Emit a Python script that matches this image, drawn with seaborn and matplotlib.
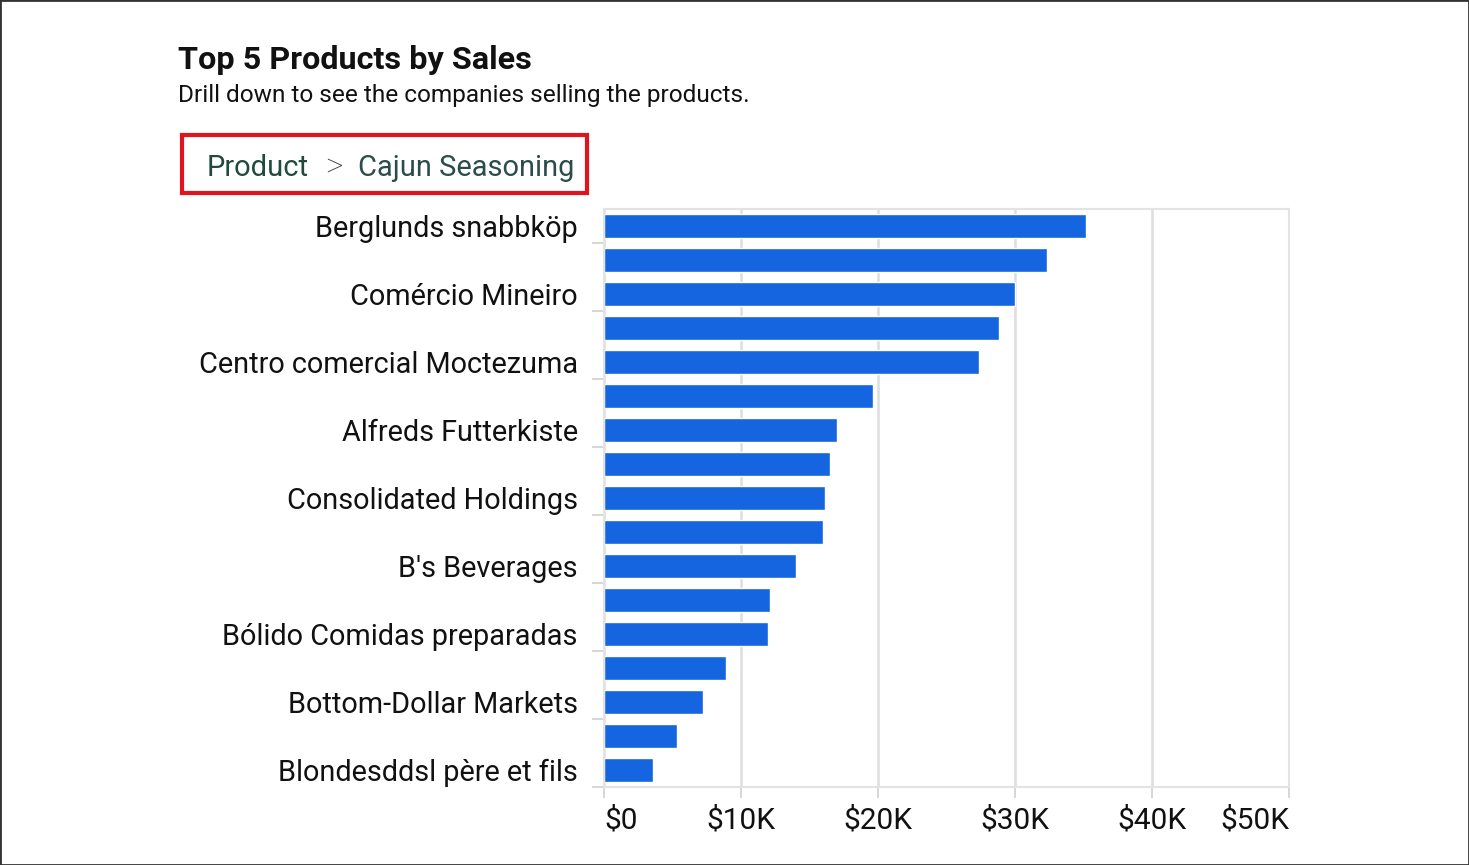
import numpy as np
import matplotlib.pyplot as plt
import seaborn as sns
import pandas as pd
from matplotlib.patches import Rectangle
from matplotlib.ticker import FuncFormatter

# companies selling Cajun Seasoning, sorted by sales
companies = ["Berglunds snabbköp", "Around the Horn", "Comércio Mineiro", "Blauer See Delikatessen",
             "Centro comercial Moctezuma", "Bon app'", "Alfreds Futterkiste", "Cactus Comidas para llevar",
             "Consolidated Holdings", "Chop-suey Chinese", "B's Beverages", "Du monde entier",
             "Bólido Comidas preparadas", "Eastern Connection", "Bottom-Dollar Markets", "Ernst Handel",
             "Blondesddsl père et fils"]
sales = [35200, 32300, 30000, 28800, 27400, 19600, 17000, 16500, 16100,
         16000, 14000, 12100, 12000, 8900, 7200, 5300, 3600]
x_ticks = [0, 10000, 20000, 30000, 40000, 50000]

df = pd.DataFrame({"company": companies, "sales": sales})

sns.set_style("white")
plt.rcParams['font.family'] = ['Roboto', 'DejaVu Sans']

fig = plt.figure(figsize=(14.69, 8.65), dpi=100)
ax = fig.add_axes([0.4112, 0.0902, 0.4663, 0.6682])

sns.barplot(data=df, x="sales", y="company", color="#1565E0", width=0.7,
            saturation=1, ax=ax, orient="h")

ax.set_xlim(0, 50000)
ax.set_ylim(len(companies) - 0.5, -0.5)
ax.set_xlabel("")
ax.set_ylabel("")

# every other label shown, small ticks between groups
ax.set_yticks(range(0, len(companies), 2))
ax.set_yticklabels(companies[::2], fontsize=20.8, color="#111111")
ax.set_yticks(np.arange(0.5, len(companies), 2), minor=True)
ax.tick_params(axis="y", which="major", length=0, pad=19)
ax.tick_params(axis="y", which="minor", length=9, width=1.2, color="#d0d0d0", left=True)

ax.set_xticks(x_ticks)
ax.xaxis.set_major_formatter(FuncFormatter(lambda v, p: "$0" if v == 0 else f"${int(v/1000)}K"))
ax.tick_params(axis="x", length=8, width=1.2, color="#d0d0d0", labelsize=21.5,
               labelcolor="#111111", pad=6, bottom=True)
labels = ax.get_xticklabels()
labels[0].set_horizontalalignment("left")
labels[-1].set_horizontalalignment("right")

ax.grid(axis="x", color="#dddddd", linewidth=1.8)
ax.set_axisbelow(True)
for s in ax.spines.values():
    s.set_visible(True)
    s.set_color("#e3e3e3")
    s.set_linewidth(1.5)

fig.text(0.1212, 0.9202, "Top 5 Products by Sales", fontsize=23.3, fontweight="bold",
         color="#111111", va="baseline")
fig.text(0.1212, 0.882, "Drill down to see the companies selling the products.", fontsize=17.6,
         color="#111111", va="baseline")
fig.text(0.1409, 0.7965, "Product", fontsize=20.9, color="#1f4a3c", va="baseline")
fig.text(0.2216, 0.7955, ">", fontsize=25, fontweight="light", color="#444444", va="baseline")
fig.text(0.2437, 0.7965, "Cajun Seasoning", fontsize=20.9, color="#2b4d4a", va="baseline")

fig.patches.append(Rectangle((0.1239, 0.7769), 0.2757, 0.0671, transform=fig.transFigure,
                             fill=False, edgecolor="#e0141e", linewidth=3))
fig.patches.append(Rectangle((0, 0), 1, 1, transform=fig.transFigure,
                             fill=False, edgecolor="#333333", linewidth=2))

fig.savefig("out.png", dpi=100)
